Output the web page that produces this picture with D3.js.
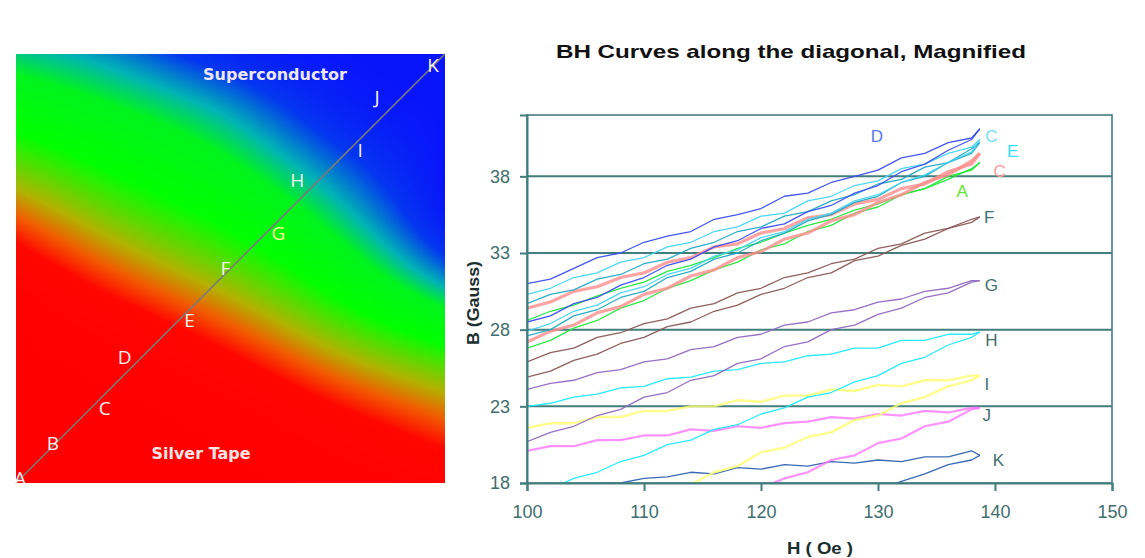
<!DOCTYPE html>
<html>
<head>
<meta charset="utf-8">
<script src="https://cdn.jsdelivr.net/npm/d3@7"></script>
<style>
  body { margin: 0; background: #fff; }
  svg { display: block; font-family: 'Liberation Sans', Arial, sans-serif; }
</style>
</head>
<body>
<div id="chart"></div>
<script>
// ---------- data: left panel (field level 0 = silver/red ... 1 = superconductor/blue)
const fieldCols = [0, 0.25, 0.5, 0.75, 1]
const fieldRows = [0, 0.125, 0.25, 0.375, 0.5, 0.625, 0.75, 0.875, 1]
const fieldLevels = [
  [0.77, 0.83, 0.97, 1.00, 1.00],
  [0.64, 0.72, 0.80, 1.00, 1.00],
  [0.51, 0.62, 0.70, 0.88, 1.00],
  [0.34, 0.52, 0.60, 0.76, 1.00],
  [0.15, 0.37, 0.50, 0.64, 0.88],
  [0.00, 0.17, 0.34, 0.53, 0.66],
  [0.00, 0.00, 0.15, 0.36, 0.47],
  [0.00, 0.00, 0.00, 0.16, 0.30],
  [0.00, 0.00, 0.00, 0.03, 0.14]
]
const pointNames = ['A', 'B', 'C', 'D', 'E', 'F', 'G', 'H', 'I', 'J', 'K']
const pointPos = [0, 0.1, 0.2, 0.3, 0.4, 0.5, 0.6, 0.7, 0.8, 0.9, 1]

// ---------- data: BH curves, H (Oe) and B (Gauss)
const hValues = [100, 102, 104, 106, 108, 110, 112, 114, 116, 118, 120, 122, 124, 126, 128, 130, 132, 134, 136, 138, 138.7]

const aUpper = [28.6, 29.2, 29.6, 30.2, 30.7, 31.1, 31.8, 32.2, 32.7, 33.3, 33.7, 34.3, 34.8, 35.2, 35.8, 36.2, 36.8, 37.2, 37.8, 38.5, 38.9]
const aLower = [26.8, 27.3, 28.1, 28.6, 29.4, 29.9, 30.7, 31.2, 31.9, 32.4, 33.2, 33.6, 34.4, 34.8, 35.6, 36.0, 36.8, 37.2, 38.0, 38.4, 38.9]
const bUpper = [29.4, 29.8, 30.5, 30.8, 31.4, 31.7, 32.4, 32.7, 33.4, 33.6, 34.3, 34.6, 35.3, 35.5, 36.2, 36.5, 37.2, 37.5, 38.3, 38.8, 39.5]
const bLower = [27.2, 27.9, 28.3, 29.1, 29.5, 30.3, 30.7, 31.5, 31.9, 32.7, 33.1, 33.9, 34.3, 35.1, 35.5, 36.3, 36.8, 37.6, 38.1, 39.0, 39.5]
const cUpper = [30.3, 30.7, 31.4, 31.7, 32.4, 32.7, 33.4, 33.7, 34.4, 34.7, 35.4, 35.6, 36.4, 36.7, 37.4, 37.7, 38.5, 38.8, 39.5, 39.9, 40.4]
const cLower = [27.9, 28.4, 29.2, 29.6, 30.4, 30.8, 31.6, 32.0, 32.8, 33.2, 34.0, 34.4, 35.2, 35.6, 36.4, 36.8, 37.6, 38.1, 38.9, 39.6, 40.4]
const dUpper = [31.0, 31.3, 32.0, 32.7, 33.0, 33.7, 34.1, 34.4, 35.2, 35.5, 35.9, 36.7, 36.9, 37.6, 38.0, 38.4, 39.2, 39.5, 40.2, 40.5, 41.1]
const dLower = [28.5, 28.9, 29.7, 30.1, 30.9, 31.4, 32.2, 32.6, 33.4, 33.8, 34.6, 34.9, 35.7, 36.1, 36.9, 37.4, 38.3, 38.8, 39.7, 40.4, 41.1]
const eUpper = [29.7, 30.3, 30.6, 31.3, 31.6, 32.3, 32.6, 33.3, 33.7, 34.4, 34.7, 35.4, 35.7, 36.4, 36.8, 37.5, 37.8, 38.6, 38.9, 39.8, 40.2]
const eLower = [27.6, 28.0, 28.9, 29.3, 30.1, 30.5, 31.4, 31.8, 32.6, 33.0, 33.8, 34.3, 35.1, 35.5, 36.3, 36.7, 37.6, 38.0, 38.9, 39.5, 40.2]
const fUpper = [25.9, 26.5, 26.8, 27.5, 27.8, 28.4, 28.7, 29.4, 29.7, 30.4, 30.7, 31.4, 31.7, 32.3, 32.6, 33.3, 33.6, 34.3, 34.6, 35.2, 35.35]
const fLower = [24.9, 25.3, 26.0, 26.4, 27.1, 27.5, 28.2, 28.5, 29.2, 29.6, 30.3, 30.7, 31.4, 31.7, 32.5, 32.8, 33.5, 33.9, 34.6, 35.0, 35.35]
const gUpper = [24.1, 24.5, 24.7, 25.2, 25.4, 25.9, 26.1, 26.7, 26.9, 27.5, 27.7, 28.3, 28.5, 29.1, 29.3, 29.8, 30.0, 30.5, 30.7, 31.2, 31.2]
const gLower = [20.7, 21.3, 21.7, 22.4, 22.8, 23.6, 23.9, 24.7, 25.0, 25.8, 26.1, 26.9, 27.2, 28.0, 28.3, 29.0, 29.4, 30.1, 30.4, 31.1, 31.2]
const hUpper = [23.0, 23.2, 23.6, 23.8, 24.2, 24.3, 24.8, 24.9, 25.3, 25.4, 25.8, 25.9, 26.3, 26.4, 26.8, 26.8, 27.3, 27.3, 27.7, 27.7, 27.85]
const hLower = [17.1, 17.6, 18.3, 18.7, 19.4, 19.8, 20.5, 20.8, 21.5, 21.8, 22.5, 22.9, 23.6, 23.9, 24.6, 25.0, 25.8, 26.2, 27.0, 27.5, 27.85]
const iUpper = [21.6, 21.9, 21.9, 22.3, 22.3, 22.7, 22.7, 23.0, 23.0, 23.4, 23.3, 23.7, 23.7, 24.1, 24.0, 24.4, 24.3, 24.7, 24.7, 25.0, 25.0]
const iLower = [13.5, 14.1, 14.7, 15.3, 16.0, 16.6, 17.3, 17.9, 18.7, 19.1, 20.0, 20.3, 21.0, 21.3, 22.1, 22.4, 23.2, 23.6, 24.3, 24.7, 25.0]
const jUpper = [20.1, 20.4, 20.4, 20.8, 20.8, 21.1, 21.1, 21.5, 21.4, 21.7, 21.6, 21.9, 22.0, 22.3, 22.2, 22.5, 22.4, 22.7, 22.6, 22.9, 22.9]
const jLower = [12.2, 12.8, 13.3, 13.9, 14.4, 15.0, 15.5, 16.1, 16.6, 17.2, 17.7, 18.3, 18.7, 19.5, 19.8, 20.6, 20.9, 21.7, 22.0, 22.8, 22.9]
const kUpper = [17.6, 17.8, 17.9, 18.0, 18.0, 18.3, 18.4, 18.7, 18.6, 19.0, 18.9, 19.2, 19.1, 19.4, 19.3, 19.5, 19.4, 19.7, 19.7, 20.1, 19.8]
const kLower = [10.1, 10.6, 11.1, 11.6, 12.1, 12.6, 13.1, 13.6, 14.1, 14.6, 15.1, 15.6, 16.1, 16.6, 17.1, 17.6, 18.1, 18.6, 19.2, 19.5, 19.8]

const xTicks = [100, 110, 120, 130, 140, 150]
const yTicks = [18, 23, 28, 33, 38]

// loops in drawing order, with their styles and where their tag sits (H, B)
const loops = [
  {tag: 'K', upper: kUpper, lower: kLower, color: '#2f62b0', w: 1.3, at: [140.3, 19.5]},
  {tag: 'J', upper: jUpper, lower: jLower, color: '#ff77ff', w: 2.2, at: [139.3, 22.4]},
  {tag: 'I', upper: iUpper, lower: iLower, color: '#ffff70', w: 2.4, at: [139.3, 24.4]},
  {tag: 'H', upper: hUpper, lower: hLower, color: '#1ee8ff', w: 1.3, at: [139.7, 27.3]},
  {tag: 'G', upper: gUpper, lower: gLower, color: '#9168c0', w: 1.3, at: [139.7, 30.9]},
  {tag: 'F', upper: fUpper, lower: fLower, color: '#8a5656', w: 1.3, at: [139.5, 35.3]},
  {tag: 'A', upper: aUpper, lower: aLower, color: '#22e83a', w: 1.3, at: [137.2, 37.0], tc: '#66e633'},
  {tag: 'C', upper: bUpper, lower: bLower, color: '#ff8c8c', w: 3.2, at: [140.4, 38.3], tc: '#ff9a9a'},
  {tag: 'E', upper: eUpper, lower: eLower, color: '#22a9c4', w: 1.3, at: [141.5, 39.6], tc: '#33e0ff'},
  {tag: 'C', upper: cUpper, lower: cLower, color: '#44d4f4', w: 1.3, at: [139.7, 40.6], tc: '#70e2f0'},
  {tag: 'D', upper: dUpper, lower: dLower, color: '#3a4ff0', w: 1.3, at: [129.9, 40.6], tc: '#5a78ee'}
]

const W = 1145
const H = 558
const svg = d3.select('#chart').append('svg').attr('width', W).attr('height', H)

// ================= left: field map =================
const mapX = d3.scaleLinear().domain([0, 1]).range([16, 445])
const mapY = d3.scaleLinear().domain([0, 1]).range([54, 483])
const levelColor = d3.scaleLinear()
  .domain([0, 0.24, 0.33, 0.42, 0.52, 0.58, 0.72, 0.8, 0.9, 1])
  .range(['#ff0000', '#ff0600', '#f25a00', '#b2b200', '#44e400', '#00ff00', '#00f41c', '#00b4b4', '#0436f0', '#0814fa'])
  .clamp(true)

const size = Math.round(mapX(1) - mapX(0))
const canvas = document.createElement('canvas')
canvas.width = size
canvas.height = size
const ctx = canvas.getContext('2d')
const img = ctx.createImageData(size, size)
const rowInterp = fieldLevels.map(r => d3.interpolateBasis(r))
for (let i = 0; i < size; i++) {
  const u = (i + 0.5) / size
  const col = d3.interpolateBasis(rowInterp.map(f => f(u)))
  for (let j = 0; j < size; j++) {
    const c = d3.rgb(levelColor(col((j + 0.5) / size)))
    const k = (j * size + i) * 4
    img.data[k] = c.r
    img.data[k + 1] = c.g
    img.data[k + 2] = c.b
    img.data[k + 3] = 255
  }
}
ctx.putImageData(img, 0, 0)

const map = svg.append('g')
map.append('image')
  .attr('x', mapX(0)).attr('y', mapY(0))
  .attr('width', size).attr('height', size)
  .attr('preserveAspectRatio', 'none')
  .attr('href', canvas.toDataURL())

map.append('line')
  .attr('x1', mapX(0)).attr('y1', mapY(1))
  .attr('x2', mapX(1)).attr('y2', mapY(0))
  .attr('stroke', '#7a7a7a').attr('stroke-width', 1.6)

// label nudges so the letters sit beside the diagonal like in the original
const labelDx = [4, -6, 3, -20, 2, -5, 5, -19, 1, -25, -12]
const labelDy = [-5, 3, 11, 3, 9, -1, 7, -3, 10, 0, 11]
map.selectAll('text.pt')
  .data(pointNames)
  .join('text')
  .attr('class', 'pt')
  .attr('x', (d, i) => mapX(pointPos[i]) + labelDx[i])
  .attr('y', (d, i) => mapY(1 - pointPos[i]) + labelDy[i])
  .attr('text-anchor', 'middle')
  .attr('dominant-baseline', 'central')
  .attr('font-family', "'Open Sans', sans-serif")
  .attr('font-size', 19)
  .attr('fill', d => d === 'G' ? '#ffff9a' : '#fbf2f2')
  .text(d => d)

map.append('text')
  .attr('x', 275).attr('y', 80)
  .attr('text-anchor', 'middle')
  .attr('font-family', "'DejaVu Sans', sans-serif")
  .attr('font-weight', 'bold').attr('font-size', 16)
  .attr('fill', '#eee6ff')
  .text('Superconductor')

map.append('text')
  .attr('x', 201).attr('y', 459)
  .attr('text-anchor', 'middle')
  .attr('font-family', "'DejaVu Sans', sans-serif")
  .attr('font-weight', 'bold').attr('font-size', 16)
  .attr('fill', '#ffe6e6')
  .text('Silver Tape')

// ================= right: BH curves =================
const x = d3.scaleLinear().domain([100, 150]).range([527, 1112])
const y = d3.scaleLinear().domain([18, 42]).range([483, 115])
const axisColor = '#437d7d'
const textColor = '#3f6e6e'

const plot = svg.append('g')

svg.append('defs').append('clipPath').attr('id', 'clip')
  .append('rect')
  .attr('x', x(100)).attr('y', y(42))
  .attr('width', x(150) - x(100)).attr('height', y(18) - y(42))

plot.selectAll('line.grid')
  .data(yTicks.slice(1))
  .join('line')
  .attr('class', 'grid')
  .attr('x1', x(100)).attr('x2', x(150))
  .attr('y1', d => y(d)).attr('y2', d => y(d))
  .attr('stroke', axisColor).attr('stroke-width', 2)

const line = d3.line()
  .x((d, i) => x(hValues[i]))
  .y(d => y(d))

const curves = plot.append('g').attr('clip-path', 'url(#clip)')
loops.forEach(l => {
  [l.lower, l.upper].forEach(s => {
    curves.append('path')
      .datum(s)
      .attr('d', line)
      .attr('fill', 'none')
      .attr('stroke', l.color)
      .attr('stroke-width', l.w)
      .attr('stroke-linejoin', 'round')
      .attr('opacity', l.w > 2 ? 0.8 : 0.95)
  })
})

plot.append('rect')
  .attr('x', x(100)).attr('y', y(42))
  .attr('width', x(150) - x(100)).attr('height', y(18) - y(42))
  .attr('fill', 'none').attr('stroke', axisColor).attr('stroke-width', 1.6)

const xAxis = plot.append('g')
  .attr('transform', `translate(0,${y(18)})`)
  .call(d3.axisBottom(x).tickValues(xTicks).tickSize(8).tickPadding(14))
const yAxis = plot.append('g')
  .attr('transform', `translate(${x(100)},0)`)
  .call(d3.axisLeft(y).tickValues(yTicks).tickSize(7).tickPadding(10))

;[xAxis, yAxis].forEach(a => {
  a.select('.domain').attr('stroke', axisColor).attr('stroke-width', 2)
  a.selectAll('.tick line').attr('stroke', axisColor).attr('stroke-width', 2)
  a.selectAll('.tick text')
    .attr('fill', textColor)
    .attr('font-family', "'Liberation Sans', Arial, sans-serif")
    .attr('font-size', 18)
})

plot.selectAll('text.tag')
  .data(loops)
  .join('text')
  .attr('class', 'tag')
  .attr('x', d => x(d.at[0]))
  .attr('y', d => y(d.at[1]))
  .attr('text-anchor', 'middle')
  .attr('dominant-baseline', 'central')
  .attr('font-size', 17)
  .attr('fill', d => d.tc || textColor)
  .text(d => d.tag)

svg.append('text')
  .attr('x', 791).attr('y', 58)
  .attr('text-anchor', 'middle')
  .attr('font-weight', 'bold').attr('font-size', 19)
  .attr('textLength', 470).attr('lengthAdjust', 'spacingAndGlyphs')
  .attr('fill', '#111')
  .text('BH Curves along the diagonal, Magnified')

svg.append('text')
  .attr('transform', 'translate(479,303) rotate(-90)')
  .attr('text-anchor', 'middle')
  .attr('font-weight', 'bold').attr('font-size', 16)
  .attr('textLength', 84).attr('lengthAdjust', 'spacingAndGlyphs')
  .attr('fill', '#1c2e2e')
  .text('B (Gauss)')

svg.append('text')
  .attr('x', 820).attr('y', 554)
  .attr('text-anchor', 'middle')
  .attr('font-weight', 'bold').attr('font-size', 16)
  .attr('textLength', 66).attr('lengthAdjust', 'spacingAndGlyphs')
  .attr('fill', '#1c2e2e')
  .text('H ( Oe )')
</script>
</body>
</html>
